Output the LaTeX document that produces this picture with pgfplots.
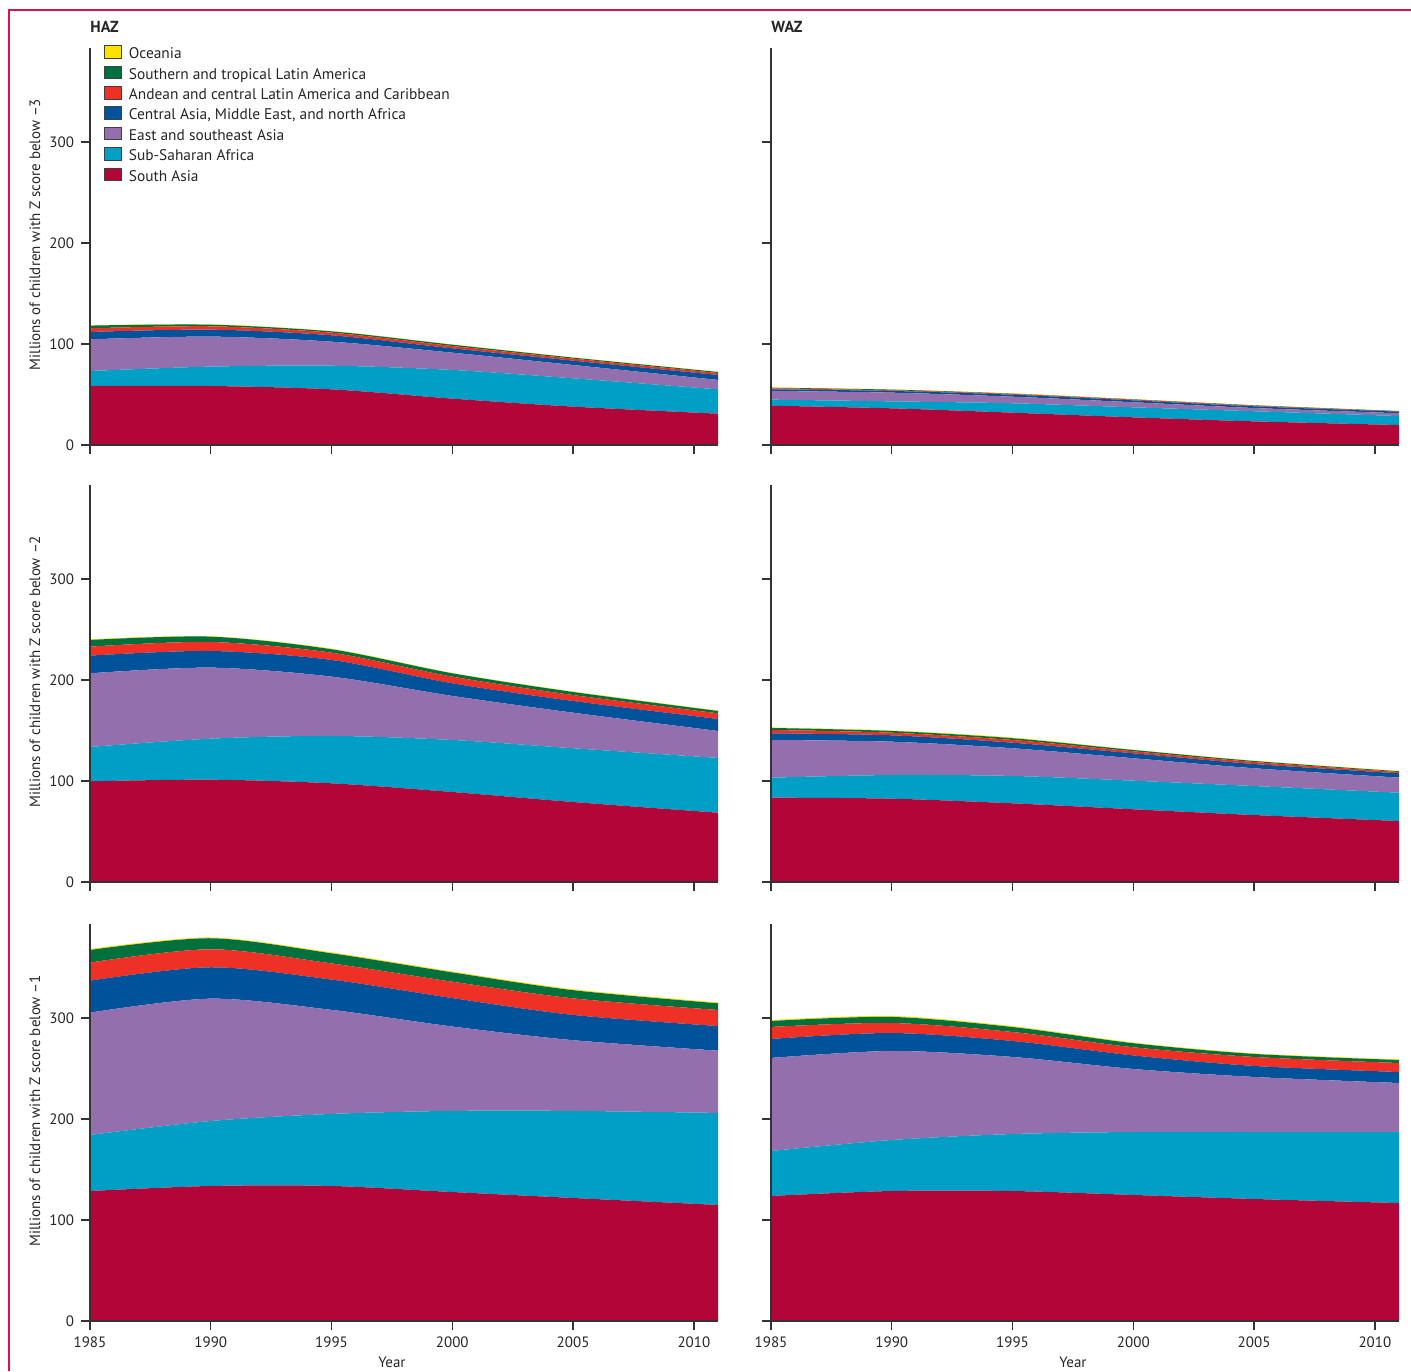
\documentclass[border=0pt]{standalone}
\usepackage{fontspec}
\setmainfont{PT Sans}
\usepackage{pgfplots}
\usepackage{pgfplotstable}
\pgfplotsset{compat=1.18}

\definecolor{sasia}{RGB}{177,6,55}
\definecolor{ssafr}{RGB}{0,160,198}
\definecolor{esasia}{RGB}{147,112,173}
\definecolor{casia}{RGB}{0,82,155}
\definecolor{andean}{RGB}{238,49,36}
\definecolor{slatam}{RGB}{0,112,60}
\definecolor{oceania}{RGB}{255,225,0}
\definecolor{framecol}{RGB}{215,20,75}

% layer thickness (millions), bottom to top
\pgfplotstableread{
year sa ssa esa ca and sla oce
1985 58.4 14.9 31.3 7.3 3.6 2.7 0.4
1990 58.4 19.2 29.7 6.9 3.3 1.6 0.4
1995 55.1 23.4 23.8 6.3 2.6 1.3 0.3
2000 45.9 28.4 17.1 4.3 2.3 1.3 0.3
2005 38.0 28.0 13.2 4.3 2.0 1.0 0.3
2011 31.0 24.1 9.3 4.9 2.0 1.0 0.3
}\hazthree
\pgfplotstableread{
year sa ssa esa ca and sla oce
1985 38.9 6.0 8.6 1.6 1.0 0.6 0.3
1990 36.3 6.9 8.6 1.7 0.6 0.7 0.3
1995 32.0 9.3 6.5 2.0 0.7 0.3 0.3
2000 27.4 9.9 5.0 1.9 0.7 0.3 0.2
2005 23.4 10.0 3.2 1.7 0.6 0.4 0.2
2011 19.8 8.9 2.7 1.6 0.3 0.3 0.2
}\wazthree
\pgfplotstableread{
year sa ssa esa ca and sla oce
1985 99.7 34.0 72.9 17.5 8.9 6.6 0.7
1990 101.3 40.6 70.3 16.5 8.9 5.3 0.4
1995 97.7 46.9 58.7 16.5 7.2 3.4 0.6
2000 89.1 51.5 43.6 12.5 6.6 3.3 0.4
2005 79.2 53.2 35.2 11.6 5.9 3.0 0.5
2011 68.6 54.2 26.7 11.9 5.6 2.3 0.5
}\haztwo
\pgfplotstableread{
year sa ssa esa ca and sla oce
1985 83.5 19.8 37.3 6.6 3.3 2.0 0.5
1990 82.5 23.4 33.0 6.3 2.6 1.7 0.5
1995 77.9 27.1 27.4 5.5 2.7 1.7 0.7
2000 72.0 28.3 22.2 4.9 2.0 1.3 0.3
2005 66.3 28.7 17.6 4.2 2.0 1.0 0.4
2011 60.4 28.0 14.9 4.3 1.3 0.7 0.4
}\waztwo
\pgfplotstableread{
year sa ssa esa ca and sla oce
1985 128.7 55.5 121.1 31.6 17.9 12.5 1.0
1990 133.7 64.3 121.1 31.1 17.8 10.9 0.8
1995 133.7 71.3 103.0 30.0 16.0 10.0 0.9
2000 127.7 80.3 83.5 28.2 16.2 9.2 0.9
2005 121.8 86.2 70.0 25.0 16.4 8.1 0.9
2011 114.9 91.1 61.6 24.4 15.9 6.6 0.9
}\hazone
\pgfplotstableread{
year sa ssa esa ca and sla oce
1985 123.8 44.5 92.1 18.8 11.9 5.9 1.0
1990 128.7 50.5 88.1 17.8 9.9 6.0 1.0
1995 128.7 56.4 76.3 15.8 8.9 4.9 0.9
2000 124.8 62.3 62.4 13.4 8.1 4.0 0.7
2005 120.8 66.3 54.5 10.9 8.9 3.0 0.6
2011 116.8 70.3 48.5 10.9 8.9 3.0 0.6
}\wazone

\newcommand{\lbl}{\fontsize{7.5}{9}\selectfont}

\pgfplotsset{
  every axis title shift=0pt,
  panel/.style={
    scale only axis, width=314pt, height=198.5pt,
    xmin=1985, xmax=2011, ymin=0, ymax=393,
    axis lines=left, axis line style={-, draw=black!80, line width=0.7pt},
    xtick={1985,1990,...,2010}, ytick={0,100,200,300},
    tick align=outside, major tick length=4.5pt,
    tick style={draw=black!80, line width=0.7pt},
    stack plots=y, area style, axis on top,
    /pgf/number format/1000 sep={},
    /pgf/number format/assume math mode=true,
    tick label style={font=\lbl, text=black!85},
    label style={font=\lbl, text=black!85},
    title style={at={(axis description cs:0,1)}, anchor=base west, inner sep=0pt,
      yshift=7.5pt, font=\fontsize{8}{9}\selectfont\bfseries, text=black!85},
    ylabel style={at={(axis description cs:-0.0876,0.53)}, anchor=center},
    xlabel style={at={(axis description cs:0.4808,0)}, anchor=base, yshift=-23pt},
  },
  noylab/.style={yticklabel=\empty},
  noxlab/.style={xticklabel=\empty},
}

\newcommand{\layers}[1]{%
  \addplot[fill=sasia, draw=none, smooth] table[x=year, y=sa] {#1} \closedcycle;
  \addplot[fill=ssafr, draw=none, smooth] table[x=year, y=ssa] {#1} \closedcycle;
  \addplot[fill=esasia, draw=none, smooth] table[x=year, y=esa] {#1} \closedcycle;
  \addplot[fill=casia, draw=none, smooth] table[x=year, y=ca] {#1} \closedcycle;
  \addplot[fill=andean, draw=none, smooth] table[x=year, y=and] {#1} \closedcycle;
  \addplot[fill=slatam, draw=none, smooth] table[x=year, y=sla] {#1} \closedcycle;
  \addplot[fill=oceania, draw=none, smooth] table[x=year, y=oce] {#1} \closedcycle;
}

\begin{document}
\begin{tikzpicture}
\useasboundingbox (0,0) rectangle (705.5pt,685.5pt);
\draw[framecol, line width=1pt] (4.5pt,0) -- (4.5pt,680.5pt) -- (705.5pt,680.5pt);

% row 1: below -3
\begin{axis}[panel, noxlab, at={(45pt,463pt)}, anchor=south west,
  title={HAZ}, ylabel={Millions of children with Z score below --3},
  reverse legend, legend cell align=left,
  legend style={at={(axis description cs:0.0223,1.012)}, anchor=north west,
    draw=none, fill=none, inner sep=0pt, font=\fontsize{7.7}{9}\selectfont,
    row sep=-0.9pt, nodes={text=black!85}},
  legend image code/.code={\path[#1, draw=black!75, line width=0.5pt] (0pt,-1.8pt) rectangle (8.5pt,4.5pt);
    \path (10pt,0pt) (0pt,5.6pt);},
  ]
\layers{\hazthree}
\legend{South Asia, Sub-Saharan Africa, East and southeast Asia,
  {Central Asia, Middle East, and north Africa},
  Andean and central Latin America and Caribbean,
  Southern and tropical Latin America, Oceania}
\end{axis}
\begin{axis}[panel, noxlab, noylab, at={(385.5pt,463pt)}, anchor=south west, title={WAZ}]
\layers{\wazthree}
\end{axis}

% row 2: below -2
\begin{axis}[panel, noxlab, at={(45pt,244.5pt)}, anchor=south west,
  ylabel={Millions of children with Z score below --2}]
\layers{\haztwo}
\end{axis}
\begin{axis}[panel, noxlab, noylab, at={(385.5pt,244.5pt)}, anchor=south west]
\layers{\waztwo}
\end{axis}

% row 3: below -1
\begin{axis}[panel, at={(45pt,25pt)}, anchor=south west,
  ylabel={Millions of children with Z score below --1}, xlabel={Year}]
\layers{\hazone}
\end{axis}
\begin{axis}[panel, noylab, at={(385.5pt,25pt)}, anchor=south west, xlabel={Year}]
\layers{\wazone}
\end{axis}
\end{tikzpicture}
\end{document}
